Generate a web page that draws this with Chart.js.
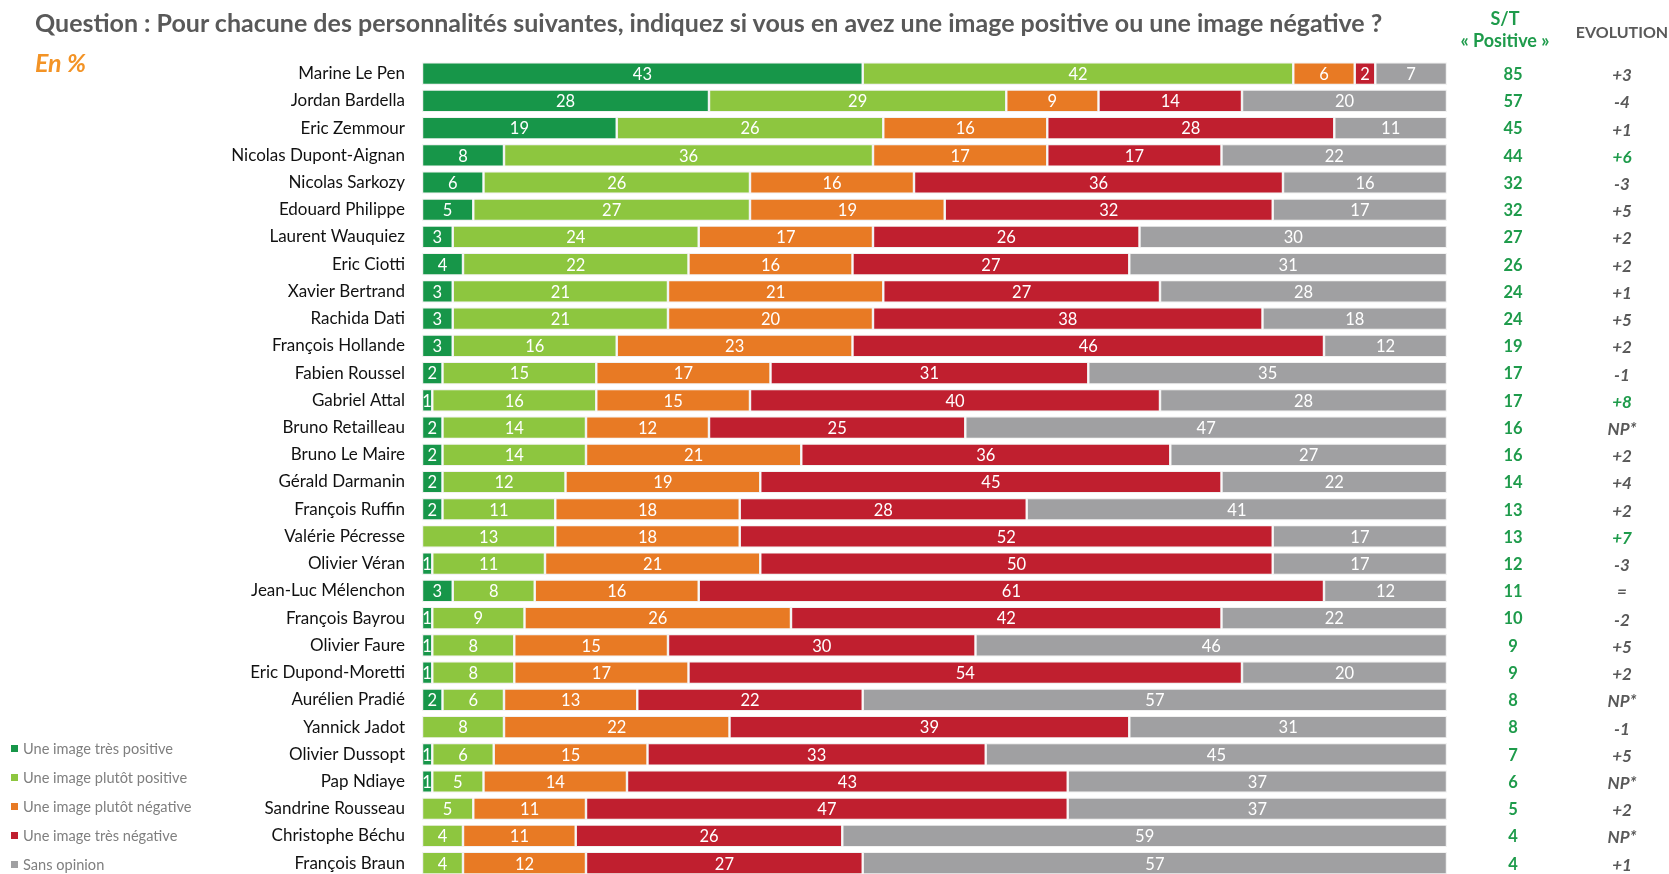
<!DOCTYPE html>
<html>
<head>
<meta charset="utf-8">
<script src="https://cdn.jsdelivr.net/npm/chart.js@4"></script>
<style>
  html,body{margin:0;padding:0;background:#fff;overflow:hidden;}
  body{width:1669px;height:874px;position:relative;font-family:Lato,"Open Sans",sans-serif;}
  #wrap{position:absolute;left:0;top:0;width:1669px;height:904px;}
  .title{position:absolute;left:35px;top:7px;font-size:25px;font-weight:700;color:#595959;white-space:nowrap;}
  .unit{position:absolute;left:35px;top:47px;font-size:25px;font-weight:700;font-style:italic;color:#f39325;}
  .st{position:absolute;left:1435px;width:140px;top:7px;text-align:center;font-size:18px;font-weight:700;color:#1e9b4b;line-height:22px;}
  .evo{position:absolute;left:1562px;width:120px;top:22px;text-align:center;font-size:16px;font-weight:700;color:#595959;}
  .legend{position:absolute;left:11px;top:734px;font-size:14.6px;color:#7f7f7f;}
  .legend div{height:29px;display:flex;align-items:center;white-space:nowrap;}
  .legend span.sq{display:inline-block;width:7px;height:7px;margin-right:5px;}
</style>
</head>
<body>
<div id="wrap"><canvas id="c" width="1669" height="904"></canvas></div>
<div class="title">Question : Pour chacune des personnalités suivantes, indiquez si vous en avez une image positive ou une image négative ?</div>
<div class="unit">En %</div>
<div class="st">S/T<br>« Positive »</div>
<div class="evo">EVOLUTION</div>
<div class="legend" id="legend"></div>
<script>
const categories = ["Marine Le Pen","Jordan Bardella","Eric Zemmour","Nicolas Dupont-Aignan","Nicolas Sarkozy","Edouard Philippe","Laurent Wauquiez","Eric Ciotti","Xavier Bertrand","Rachida Dati","François Hollande","Fabien Roussel","Gabriel Attal","Bruno Retailleau","Bruno Le Maire","Gérald Darmanin","François Ruffin","Valérie Pécresse","Olivier Véran","Jean-Luc Mélenchon","François Bayrou","Olivier Faure","Eric Dupond-Moretti","Aurélien Pradié","Yannick Jadot","Olivier Dussopt","Pap Ndiaye","Sandrine Rousseau","Christophe Béchu","François Braun"];
const tresPositive   = [43,28,19,8,6,5,3,4,3,3,3,2,1,2,2,2,2,0,1,3,1,1,1,2,0,1,1,0,0,0];
const plutotPositive = [42,29,26,36,26,27,24,22,21,21,16,15,16,14,14,12,11,13,11,8,9,8,8,6,8,6,5,5,4,4];
const plutotNegative = [6,9,16,17,16,19,17,16,21,20,23,17,15,12,21,19,18,18,21,16,26,15,17,13,22,15,14,11,11,12];
const tresNegative   = [2,14,28,17,36,32,26,27,27,38,46,31,40,25,36,45,28,52,50,61,42,30,54,22,39,33,43,47,26,27];
const sansOpinion    = [7,20,11,22,16,17,30,31,28,18,12,35,28,47,27,22,41,17,17,12,22,46,20,57,31,45,37,37,59,57];
const stPositive     = [85,57,45,44,32,32,27,26,24,24,19,17,17,16,16,14,13,13,12,11,10,9,9,8,8,7,6,5,4,4];
const evolution      = ["+3","-4","+1","+6","-3","+5","+2","+2","+1","+5","+2","-1","+8","NP*","+2","+4","+2","+7","-3","=","-2","+5","+2","NP*","-1","+5","NP*","+2","NP*","+1"];
const seriesNames = ["Une image très positive","Une image plutôt positive","Une image plutôt négative","Une image très négative","Sans opinion"];
const seriesColors = ["#179649","#8dc63f","#e87a24","#c01f2f","#a0a0a2"];

const leg = document.getElementById('legend');
seriesNames.forEach((n,i)=>{
  const d=document.createElement('div');
  d.innerHTML='<span class="sq" style="background:'+seriesColors[i]+'"></span>'+n;
  leg.appendChild(d);
});

const seriesData=[tresPositive,plutotPositive,plutotNegative,tresNegative,sansOpinion];
const FONT = 'Lato, "Open Sans", sans-serif';

const labelsPlugin = {
  id:'labelsPlugin',
  afterDatasetsDraw(chart){
    const ctx=chart.ctx;
    ctx.save();
    ctx.textAlign='center';ctx.textBaseline='middle';
    ctx.font='16.5px '+FONT;
    ctx.fillStyle='#ffffff';
    chart.data.datasets.forEach((ds,di)=>{
      const meta=chart.getDatasetMeta(di);
      meta.data.forEach((bar,i)=>{
        const v=ds.data[i];
        if(!v) return;
        const cx=(bar.x+bar.base)/2;
        ctx.fillText(String(v),cx,bar.y+1);
      });
    });
    const ys=chart.scales.y;
    categories.forEach((c,i)=>{
      const y=ys.getPixelForValue(i)+1;
      ctx.font='bold 16.5px '+FONT;
      ctx.fillStyle='#1e9b4b';
      ctx.fillText(String(stPositive[i]),1513,y);
      const e=evolution[i];
      const num=parseInt(e,10);
      ctx.font='italic bold 17px '+FONT;
      ctx.fillStyle=(!isNaN(num)&&num>=6)?'#1e9b4b':'#595959';
      ctx.fillText(e,1622,y+1);
    });
    ctx.restore();
  }
};

new Chart(document.getElementById('c'),{
  type:'bar',
  data:{
    labels:categories,
    datasets:seriesData.map((d,i)=>({
      label:seriesNames[i],
      data:d,
      backgroundColor:seriesColors[i],
      borderColor:'#f2f2f2',
      borderWidth:1.2,
      borderSkipped:false,
      barPercentage:0.83,
      categoryPercentage:1
    }))
  },
  options:{
    indexAxis:'y',
    responsive:false,
    animation:false,
    devicePixelRatio:1,
    layout:{padding:{left:0,right:222,top:60,bottom:7}},
    plugins:{legend:{display:false},tooltip:{enabled:false}},
    scales:{
      x:{stacked:true,min:0,max:100,display:false},
      y:{stacked:true,
         grid:{display:false,drawTicks:false},
         border:{display:false},
         afterFit(s){s.width=422;},
         ticks:{color:'#111',font:{family:FONT,size:17},padding:17,autoSkip:false}
      }
    }
  },
  plugins:[labelsPlugin]
});
</script>
</body>
</html>
